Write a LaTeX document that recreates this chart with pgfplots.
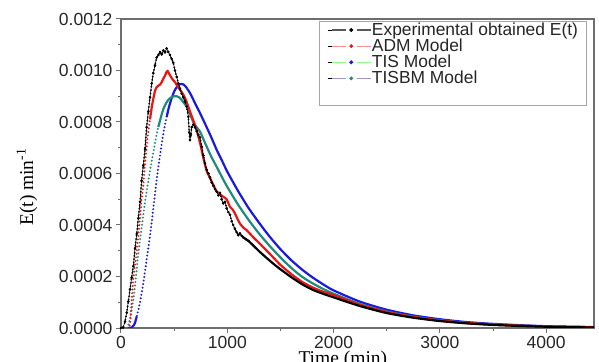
\documentclass[border=0pt]{standalone}
\usepackage{pgfplots}
\usepackage{pgfplotstable}
\pgfplotsset{compat=1.18}
\usepackage{fontspec}
\setmainfont{Liberation Sans}
\newfontfamily\serif{Liberation Serif}
\definecolor{cred}{RGB}{235,20,20}
\definecolor{cblue}{RGB}{25,25,225}
\definecolor{cteal}{RGB}{30,140,125}
\definecolor{axgray}{RGB}{110,110,110}

\pgfplotstableread{
t E
0 0
20 0.000002
38 0.000025
54 0.00006
69 0.000103
85 0.00015
100 0.000195
116 0.00024
132 0.00031
148 0.000365
163 0.000426
179 0.00049
194 0.000572
210 0.00063
226 0.000695
241 0.00078
257 0.00084
273 0.000895
289 0.00095
304 0.00099
320 0.00102
335 0.00105
351 0.00106
367 0.001072
383 0.001062
398 0.001078
414 0.00107
429 0.001086
445 0.001072
461 0.00106
477 0.001045
492 0.00103
508 0.001
524 0.000975
539 0.00095
555 0.00093
571 0.00091
587 0.000895
602 0.00088
618 0.00086
634 0.00082
642 0.00076
649 0.00073
657 0.00075
665 0.00078
680 0.00079
696 0.00078
712 0.000765
728 0.00075
743 0.00074
759 0.000705
775 0.00067
790 0.00064
806 0.000615
822 0.0006
837 0.000585
853 0.000565
869 0.000552
884 0.00054
900 0.00053
916 0.000515
931 0.000525
947 0.0005
962 0.000484
978 0.00049
994 0.000465
1010 0.00045
1025 0.00044
1041 0.000415
1056 0.0004
1072 0.000385
1088 0.000372
1103 0.00036
1119 0.000368
1135 0.000358
1150 0.000352
1175 0.000345
1200 0.000338
1250 0.000318
1300 0.000298
1370 0.000272
1450 0.000244
1500 0.000228
1600 0.000198
1700 0.000171
1800 0.000149
1900 0.000133
2000 0.000119
2250 0.000085
2500 0.000058
2750 0.00004
3000 0.000027
3250 0.000018
3500 0.000012
3750 0.000008
4000 0.000005
4250 0.000003
4500 0.000002
}\expdata

\pgfplotstableread{
t E
0 0
60 0
70 0.000002
85 0.000013
100 0.000103
116 0.000193
132 0.000245
148 0.000297
163 0.00036
179 0.000426
194 0.0005
210 0.000555
226 0.00064
241 0.0007
257 0.000766
273 0.00081
289 0.000857
304 0.00089
320 0.000921
335 0.000935
351 0.000941
367 0.000945
383 0.000955
398 0.000968
414 0.00098
429 0.000995
439 0.000998
450 0.00099
470 0.000975
490 0.000963
508 0.000955
530 0.00094
550 0.000928
571 0.000916
595 0.0009
618 0.000877
650 0.00084
680 0.000806
710 0.00077
743 0.00072
775 0.00066
806 0.00061
840 0.00058
870 0.000555
900 0.00053
930 0.00052
960 0.00051
994 0.0005
1025 0.000471
1050 0.00046
1072 0.000445
1100 0.00042
1120 0.000405
1150 0.00039
1182 0.00038
1250 0.00035
1300 0.00033
1400 0.000288
1500 0.000245
1600 0.00021
1700 0.00018
1800 0.000158
1900 0.000141
2000 0.000128
2250 0.00009
2500 0.000062
2750 0.000043
3000 0.000029
3250 0.00002
3500 0.000013
3750 0.000009
4000 0.000006
4250 0.000004
4500 0.000003
}\admdata

\pgfplotstableread{
t E
0 0
60 0
69 0.000013
85 0.000035
100 0.00007
116 0.00011
132 0.000165
148 0.00023
163 0.00029
179 0.00034
194 0.00039
210 0.00044
226 0.00049
241 0.00053
257 0.00057
273 0.00061
289 0.00065
304 0.00068
320 0.00072
335 0.00075
351 0.00078
367 0.000805
383 0.00083
398 0.00085
414 0.000865
430 0.000877
445 0.000886
461 0.000892
477 0.000897
500 0.0009
524 0.0009
550 0.000895
571 0.000885
600 0.00087
618 0.00086
650 0.00083
680 0.0008
710 0.00078
743 0.000763
800 0.00071
850 0.000665
900 0.000626
950 0.000586
1000 0.000548
1100 0.00048
1200 0.00042
1300 0.000366
1400 0.000318
1500 0.000274
1600 0.000234
1700 0.0002
1800 0.000174
1900 0.000152
2000 0.000133
2250 0.000093
2500 0.000064
2750 0.000044
3000 0.00003
3250 0.00002
3500 0.000014
3750 0.000009
4000 0.000006
4250 0.000004
4500 0.000003
}\tisbmdata

\pgfplotstableread{
t E
0 0
60 0
100 0.000002
120 0.00001
132 0.00002
148 0.000045
163 0.00007
179 0.0001
194 0.000135
210 0.000175
226 0.00022
241 0.000265
257 0.00031
273 0.00036
289 0.00041
304 0.000465
320 0.00052
335 0.000575
351 0.000625
367 0.00067
383 0.000715
398 0.000755
414 0.00079
430 0.00082
445 0.000848
461 0.000872
477 0.000893
492 0.00091
508 0.000925
524 0.000935
540 0.000943
555 0.000947
571 0.000948
590 0.000945
610 0.000937
630 0.000925
650 0.000912
665 0.0009
700 0.00087
743 0.000835
800 0.000785
850 0.00074
900 0.000692
950 0.00065
1000 0.000607
1100 0.000533
1200 0.000466
1300 0.000408
1400 0.000354
1500 0.000306
1600 0.000264
1700 0.000228
1800 0.000197
1900 0.00017
2000 0.000146
2250 0.000102
2500 0.000071
2750 0.000049
3000 0.000034
3250 0.000023
3500 0.000016
3750 0.000011
4000 0.000007
4250 0.000005
4500 0.000003
}\tisdata

\begin{document}
\begin{tikzpicture}
\begin{axis}[
  name=ax,
  scale only axis,
  width=473bp, height=309bp,
  xmin=0, xmax=4450, ymin=0, ymax=0.0012,
  xtick={0,1000,2000,3000,4000},
  ytick={0,0.0002,0.0004,0.0006,0.0008,0.0010,0.0012},
  minor x tick num=1, minor y tick num=1,
  scaled y ticks=false,
  xticklabel style={/pgf/number format/1000 sep={}},
  yticklabel style={/pgf/number format/.cd,fixed,fixed zerofill,precision=4},
  /pgf/number format/assume math mode=true,
  ticklabel style={font=\fontsize{17.5bp}{19bp}\selectfont, text=black!85},
  tick align=outside, tick pos=left,
  major tick length=5bp, minor tick length=3bp,
  axis line style={axgray, line width=1.2bp},
  every tick/.style={axgray, line width=1bp},
  xlabel={Time (min)},
  xlabel style={font=\serif\fontsize{19.5bp}{20bp}\selectfont, at={(rel axis cs:0.469,0)}, anchor=north, yshift=-23bp, inner sep=0pt},
  ylabel={E(t) min\textsuperscript{-1}},
  ylabel style={font=\serif\fontsize{19.5bp}{20bp}\selectfont, at={(rel axis cs:0,0.456)}, anchor=center, yshift=94bp, inner sep=0pt},
  legend cell align=left,
  legend style={at={(rel axis cs:1,1)}, anchor=north east, xshift=-7bp, yshift=-2bp,
    draw=gray!70, line width=0.8bp, font=\fontsize{17.4bp}{18bp}\selectfont,
    inner xsep=8bp, inner ysep=1bp, row sep=0.8bp,
    nodes={inner sep=0.6bp, text=black!85},
    /tikz/every even column/.append style={column sep=5bp}},
]
% legend entries
\addlegendimage{legend image code/.code={
  \path (-4bp,0bp) -- (0bp,0bp);
  \draw[black!65, line width=1.3bp] (0bp,0bp) -- (14bp,0bp);
  \draw[black!65, line width=1.3bp] (25bp,0bp) -- (39bp,0bp);
  \fill[black] (19.5bp,0bp) circle (1.5bp);}}
\addlegendentry{Experimental obtained E(t)}
\addlegendimage{legend image code/.code={
  \path (-4bp,0bp) -- (0bp,0bp);
  \draw[red!45, line width=1.3bp] (0bp,0bp) -- (14bp,0bp);
  \draw[red!45, line width=1.3bp] (25bp,0bp) -- (39bp,0bp);
  \fill[cred] (19.5bp,0bp) circle (1.5bp);}}
\addlegendentry{ADM Model}
\addlegendimage{legend image code/.code={
  \path (-4bp,0bp) -- (0bp,0bp);
  \draw[green!45!white, line width=1.3bp] (0bp,0bp) -- (14bp,0bp);
  \draw[green!45!white, line width=1.3bp] (25bp,0bp) -- (39bp,0bp);
  \fill[cblue] (19.5bp,0bp) circle (1.5bp);}}
\addlegendentry{TIS Model}
\addlegendimage{legend image code/.code={
  \path (-4bp,0bp) -- (0bp,0bp);
  \draw[blue!35!gray!60, line width=1.3bp] (0bp,0bp) -- (14bp,0bp);
  \draw[blue!35!gray!60, line width=1.3bp] (25bp,0bp) -- (39bp,0bp);
  \fill[cteal] (19.5bp,0bp) circle (1.5bp);}}
\addlegendentry{TISBM Model}
\addlegendimage{empty legend}
\addlegendentry{\rule{0pt}{15bp}}

% TIS (blue)
\addplot[forget plot, cblue, line width=2.2bp, smooth, tension=0.4, restrict x to domain=60:160] table[x=t,y=E] {\tisdata};
\addplot[forget plot, cblue, line width=2.2bp, line cap=round, dash pattern=on 0bp off 3.6bp, restrict x to domain=132:445] table[x=t,y=E] {\tisdata};
\addplot[forget plot, cblue, line width=2.2bp, smooth, tension=0.4, restrict x to domain=430:4500] table[x=t,y=E] {\tisdata};
% TISBM (teal)
\addplot[forget plot, cteal, line width=2.2bp, line cap=round, dash pattern=on 0bp off 3.6bp, restrict x to domain=60:367] table[x=t,y=E] {\tisbmdata};
\addplot[forget plot, cteal, line width=2.2bp, smooth, tension=0.4, restrict x to domain=351:4500] table[x=t,y=E] {\tisbmdata};
% ADM (red)
\addplot[forget plot, cred, line width=2.2bp, line cap=round, dash pattern=on 0bp off 3.6bp, restrict x to domain=60:289] table[x=t,y=E] {\admdata};
\addplot[forget plot, cred, line width=2.2bp, smooth, tension=0.3, restrict x to domain=273:4500] table[x=t,y=E] {\admdata};
% Experimental (black)
\addplot[forget plot, black, line width=0.6bp, mark=*, mark size=1bp, restrict x to domain=0:1200] table[x=t,y=E] {\expdata};
\addplot[forget plot, black, line width=2bp, line cap=round, dash pattern=on 0bp off 3.4bp, restrict x to domain=0:1200] table[x=t,y=E] {\expdata};
\addplot[forget plot, black, line width=2.2bp, smooth, tension=0.4, restrict x to domain=1150:4500] table[x=t,y=E] {\expdata};
\end{axis}
\pgfresetboundingbox
\useasboundingbox ([xshift=-121bp,yshift=-34bp]ax.south west) rectangle ([xshift=5bp,yshift=19bp]ax.north east);
\end{tikzpicture}
\end{document}
